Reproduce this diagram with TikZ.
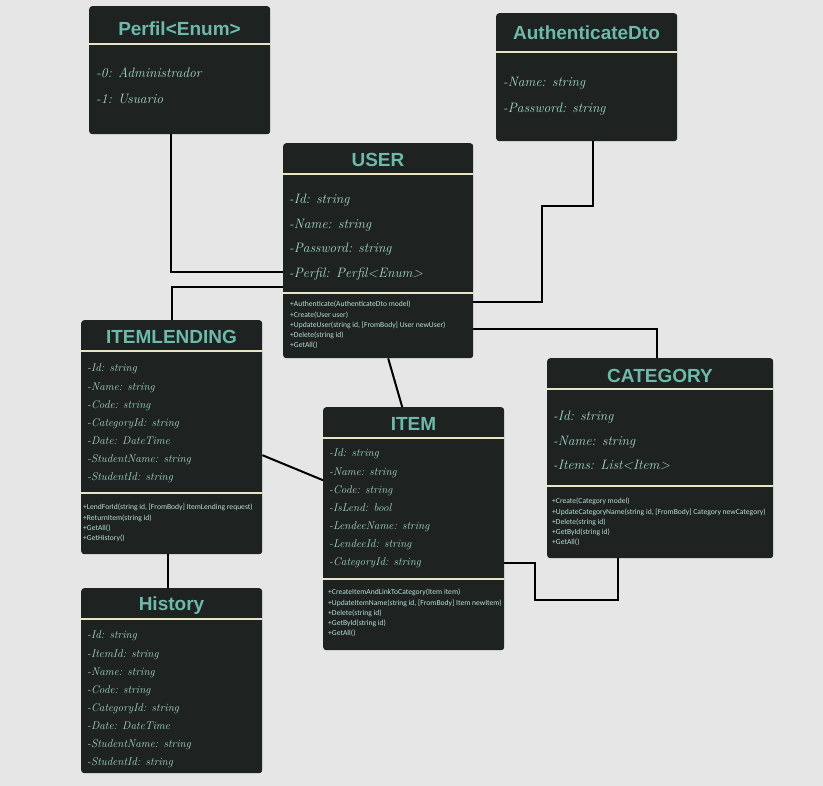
\documentclass[tikz,border=0pt]{standalone}
\usepackage{fontspec}
\usepackage{tikz}
\usepackage{xcolor}
\usetikzlibrary{positioning}

\newfontfamily\titlefont{Liberation Sans}
\newfontfamily\methfont{Carlito}

\definecolor{bgcol}{HTML}{E6E6E6}
\definecolor{boxcol}{HTML}{1E2221}
\definecolor{titlecol}{HTML}{6DBAAA}
\definecolor{sepcol}{HTML}{E8E4C6}
\definecolor{attrcol}{HTML}{A4D8CB}
\definecolor{methcol}{HTML}{B9DFD6}

\tikzset{
    umlbox/.style={rectangle, rounded corners=3pt, fill=boxcol, anchor=north west, inner sep=0pt},
    umltitle/.style={text=titlecol, font=\titlefont\bfseries\fontsize{19pt}{22pt}\selectfont, inner sep=0pt},
    sepline/.style={draw=sepcol, line width=2pt},
    dtoattr/.style={anchor=north west, inner sep=0pt, align=left, text=attrcol, font=\itshape\fontsize{13.6pt}{26pt}\selectfont},
    bigattr/.style={anchor=north west, inner sep=0pt, align=left, text=attrcol, font=\itshape\fontsize{13.6pt}{24.6pt}\selectfont},
    smallattr/.style={anchor=north west, inner sep=0pt, align=left, text=attrcol, font=\itshape\fontsize{11.2pt}{18.1pt}\selectfont},
    meth/.style={anchor=north west, inner sep=0pt, align=left, text=methcol, font=\methfont\fontsize{7.6pt}{10.3pt}\selectfont},
    link/.style={draw=black, line width=2pt}
}

\begin{document}
\begin{tikzpicture}[x=1pt, y=-1pt]
        \fill[bgcol] (0,0) rectangle (823,786);
        \useasboundingbox (0,0) rectangle (823,786);

        % class boxes
        \node[umlbox, minimum width=181pt, minimum height=128pt] (perfil) at (89,6) {};
        \node[umlbox, minimum width=181pt, minimum height=128pt] (auth) at (496,13) {};
        \node[umlbox, minimum width=190pt, minimum height=215pt] (user) at (283,143) {};
        \node[umlbox, minimum width=181pt, minimum height=234pt] (lending) at (81,320) {};
        \node[umlbox, minimum width=181pt, minimum height=243pt] (item) at (323,407) {};
        \node[umlbox, minimum width=226pt, minimum height=200pt] (category) at (547,358) {};
        \node[umlbox, minimum width=181pt, minimum height=185pt] (history) at (81,588) {};

        % titles
        \node[umltitle] (perfiltitle) at (179.5,29) {Perfil<Enum>};
        \node[umltitle] (authtitle) at (586.5,33) {AuthenticateDto};
        \node[umltitle] (usertitle) at (378,160) {USER};
        \node[umltitle] (lendingtitle) at (171.5,337) {ITEMLENDING};
        \node[umltitle] (itemtitle) at (413.5,424) {ITEM};
        \node[umltitle] (categorytitle) at (660,376) {CATEGORY};
        \node[umltitle] (historytitle) at (171.5,606) {History};

        % separators
        \draw[sepline] (89,44) -- (270,44);
        \draw[sepline] (496,52) -- (677,52);
        \draw[sepline] (283,174) -- (473,174);
        \draw[sepline] (283,293) -- (473,293);
        \draw[sepline] (81,351) -- (262,351);
        \draw[sepline] (81,493) -- (262,493);
        \draw[sepline] (323,438) -- (504,438);
        \draw[sepline] (323,579) -- (504,579);
        \draw[sepline] (547,389) -- (773,389);
        \draw[sepline] (547,486) -- (773,486);
        \draw[sepline] (81,619) -- (262,619);

        % attributes
        \node[dtoattr] (perfilattr) at (96,68) {-0: Administrador\\-1: Usuario};
        \node[dtoattr] (authattr) at (503,77) {-Name: string\\-Password: string};
        \node[bigattr] (userattr) at (289,194) {-Id: string\\-Name: string\\-Password: string\\-Perfil: Perfil<Enum>};
        \node[smallattr] (lendingattr) at (87,364) {-Id: string\\-Name: string\\-Code: string\\-CategoryId: string\\-Date: DateTime\\-StudentName: string\\-StudentId: string};
        \node[smallattr] (itemattr) at (329,449) {-Id: string\\-Name: string\\-Code: string\\-IsLend: bool\\-LendeeName: string\\-LendeeId: string\\-CategoryId: string};
        \node[bigattr] (categoryattr) at (553,411) {-Id: string\\-Name: string\\-Items: List<Item>};
        \node[smallattr] (historyattr) at (87,631) {-Id: string\\-ItemId: string\\-Name: string\\-Code: string\\-CategoryId: string\\-Date: DateTime\\-StudentName: string\\-StudentId: string};

        % methods
        \node[meth] (usermeth) at (290,301) {+Authenticate(AuthenticateDto model)\\+Create(User user)\\+UpdateUser(string id, [FromBody] User newUser)\\+Delete(string id)\\+GetAll()};
        \node[meth] (lendingmeth) at (83,504) {+LendForId(string id, [FromBody] ItemLending request)\\+ReturnItem(string id)\\+GetAll()\\+GetHistory()};
        \node[meth] (itemmeth) at (328,589) {+CreateItemAndLinkToCategory(Item item)\\+UpdateItemName(string id, [FromBody] Item newItem)\\+Delete(string id)\\+GetById(string id)\\+GetAll()};
        \node[meth] (categorymeth) at (552,498) {+Create(Category model)\\+UpdateCategoryName(string id, [FromBody] Category newCategory)\\+Delete(string id)\\+GetById(string id)\\+GetAll()};

        % connectors
        \draw[link] ([xshift=-8.5pt]perfil.south) |- ([yshift=-21.5pt]user.west);
        \draw[link] ([xshift=6.5pt]auth.south) -- ++(0,65) -- ++(-51,0) |- ([yshift=-51.5pt]user.east);
        \draw[link] ([yshift=-36.5pt]user.west) -| (lending.north);
        \draw[link] ([yshift=-78.5pt]user.east) -| ([xshift=-3pt]category.north);
        \draw[link] ([xshift=10pt]user.south) -- ([xshift=-11.5pt]item.north);
        \draw[link] ([yshift=-18pt]lending.east) -- ([yshift=48.5pt]item.west);
        \draw[link] ([yshift=-34.5pt]item.east) -- ++(31,0) -- ++(0,37) -| ([xshift=-42pt]category.south);
        \draw[link] ([xshift=-3.5pt]lending.south) -- ([xshift=-3.5pt]history.north);
    \end{tikzpicture}
\end{document}
